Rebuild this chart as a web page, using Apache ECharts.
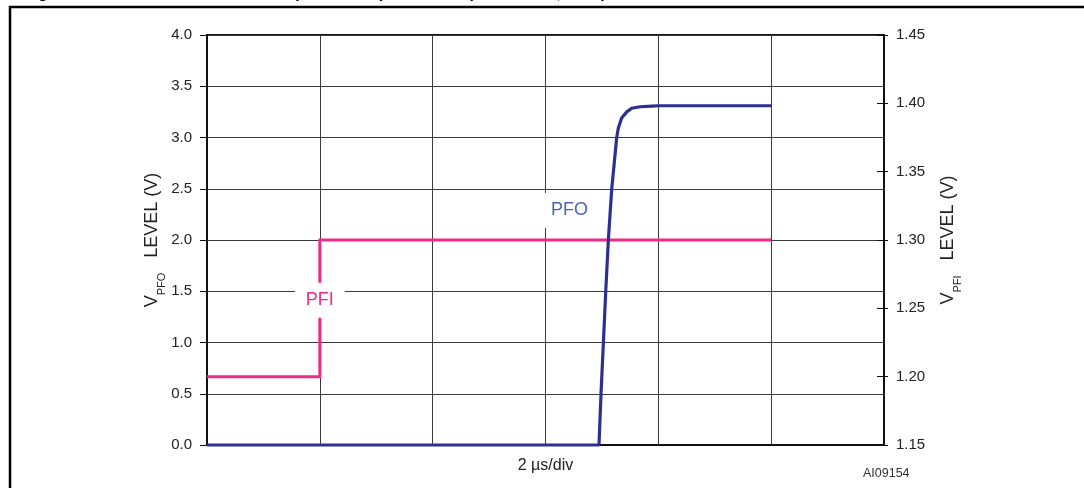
<!DOCTYPE html>
<html>
<head>
<meta charset="utf-8">
<script src="https://cdn.jsdelivr.net/npm/echarts@6/dist/echarts.min.js"></script>
<style>
  html, body { margin: 0; padding: 0; background: #fff; }
  #chart { width: 1084px; height: 488px; }
</style>
</head>
<body>
<div id="chart"></div>
<script>
// ---- data ----
// time in microseconds (2 µs per division)
const pfoTime  = [0, 6.948, 6.984, 7.068, 7.114, 7.174, 7.22, 7.262, 7.29, 7.35, 7.44, 7.528, 7.676, 7.882, 8.0, 10.0];
const pfoLevel = [0, 0, 0.5, 1.5, 2.0, 2.5, 2.76, 3.0, 3.09, 3.19, 3.25, 3.285, 3.30, 3.307, 3.31, 3.31];
const pfiTime  = [0, 2, 2, 10];
const pfiLevel = [1.20, 1.20, 1.30, 1.30];
const leftTicks  = [0, 4, 0.5];        // min, max, step (V_PFO)
const rightTicks = [1.15, 1.45, 0.05]; // min, max, step (V_PFI)
const timeTicks  = [0, 12, 2];         // min, max, step (µs)
const pfiLabelAt = [2, 1.256];
const pfoLabelAt = [6.426, 2.288];

const FONT = '"Liberation Sans", Arial, Helvetica, sans-serif';
const PINK = '#EC2B8C';
const NAVY = '#2D3092';
const PFO_TXT = '#4767B0';
const GRIDC = '#3a3a3a';

const chart = echarts.init(document.getElementById('chart'), null, { renderer: 'canvas' });

const nameRich = {
  v: { fontSize: 18, lineHeight: 18, verticalAlign: 'top', color: '#222', fontFamily: FONT },
  s: { fontSize: 11, lineHeight: 24, verticalAlign: 'bottom', color: '#222', fontFamily: FONT }
};

const option = {
  animation: false,
  backgroundColor: '#fff',
  textStyle: { fontFamily: FONT },
  grid: { left: 207, right: 200, top: 35, bottom: 43, show: true, borderColor: '#111', borderWidth: 2, backgroundColor: 'transparent' },
  graphic: [
    { type: 'polyline', shape: { points: [[10, 488], [10, 7], [1084, 7]] }, style: { stroke: '#000', lineWidth: 2.5, fill: null }, silent: true },
    { type: 'text', left: 24, top: -14.5, style: { text: 'Figure 19. Power-fail threshold comparator response time (VCC = 3.0V, 25°C)', font: 'bold 16px ' + FONT, fill: '#000' }, silent: true },
    { type: 'text', left: 863, top: 467, style: { text: 'AI09154', font: '12.5px ' + FONT, fill: '#333' }, silent: true }
  ],
  xAxis: {
    type: 'value', min: timeTicks[0], max: timeTicks[1], interval: timeTicks[2],
    axisLine: { show: true, lineStyle: { color: '#111', width: 2 } },
    axisTick: { show: false }, axisLabel: { show: false },
    splitLine: { show: true, lineStyle: { color: GRIDC, width: 1 } },
    name: '2 µs/div', nameLocation: 'middle', nameGap: 13,
    nameTextStyle: { fontSize: 16, color: '#222', fontFamily: FONT }
  },
  yAxis: [
    {
      type: 'value', position: 'left', min: leftTicks[0], max: leftTicks[1], interval: leftTicks[2],
      axisLine: { show: true, lineStyle: { color: '#111', width: 2 } },
      axisTick: { show: true, inside: false, length: 7, lineStyle: { color: '#111', width: 1 } },
      axisLabel: { formatter: v => v.toFixed(1), fontSize: 15, color: '#222', margin: 15, fontFamily: FONT },
      splitLine: { show: true, lineStyle: { color: GRIDC, width: 1 } },
      name: '{v|V}{s|PFO}{v|   LEVEL (V)}', nameLocation: 'middle', nameRotate: 90, nameGap: 40,
      nameMoveOverlap: false,
      nameTextStyle: { rich: nameRich }
    },
    {
      type: 'value', position: 'right', min: rightTicks[0], max: rightTicks[1], interval: rightTicks[2],
      axisLine: { show: true, lineStyle: { color: '#111', width: 2 } },
      axisTick: { show: true, inside: false, length: 4, lineStyle: { color: '#111', width: 1 } },
      axisLabel: { formatter: v => v.toFixed(2), fontSize: 15, color: '#222', margin: 12, fontFamily: FONT },
      splitLine: { show: false },
      name: '{v|V}{s|PFI}{v|   LEVEL (V)}', nameLocation: 'middle', nameRotate: 90, nameGap: 55,
      nameTextStyle: { rich: nameRich }
    },
    {
      type: 'value', position: 'right', min: rightTicks[0], max: rightTicks[1], interval: rightTicks[2],
      axisLine: { show: false },
      axisTick: { show: true, inside: true, length: 7, lineStyle: { color: '#111', width: 1 } },
      axisLabel: { show: false }, splitLine: { show: false }
    }
  ],
  series: [
    {
      name: 'PFI', type: 'line', yAxisIndex: 1, symbol: 'none', clip: false,
      data: pfiTime.map((t, i) => [t, pfiLevel[i]]),
      lineStyle: { color: PINK, width: 3, join: 'miter' }, itemStyle: { color: PINK },
      markPoint: {
        symbol: 'rect', symbolSize: [50, 35], silent: true,
        itemStyle: { color: '#fff' },
        label: { show: true, position: 'inside', color: PINK, fontSize: 18, fontFamily: FONT, formatter: 'PFI' },
        data: [{ coord: pfiLabelAt }]
      }
    },
    {
      name: 'PFO', type: 'line', yAxisIndex: 0, symbol: 'none', clip: false,
      data: pfoTime.map((t, i) => [t, pfoLevel[i]]),
      lineStyle: { color: NAVY, width: 3.2 }, itemStyle: { color: NAVY },
      markPoint: {
        symbol: 'rect', symbolSize: [62, 35], silent: true,
        itemStyle: { color: '#fff' },
        label: { show: true, position: 'inside', color: PFO_TXT, fontSize: 18, fontFamily: FONT, formatter: 'PFO' },
        data: [{ coord: pfoLabelAt }]
      }
    }
  ]
};
chart.setOption(option);
</script>
</body>
</html>
